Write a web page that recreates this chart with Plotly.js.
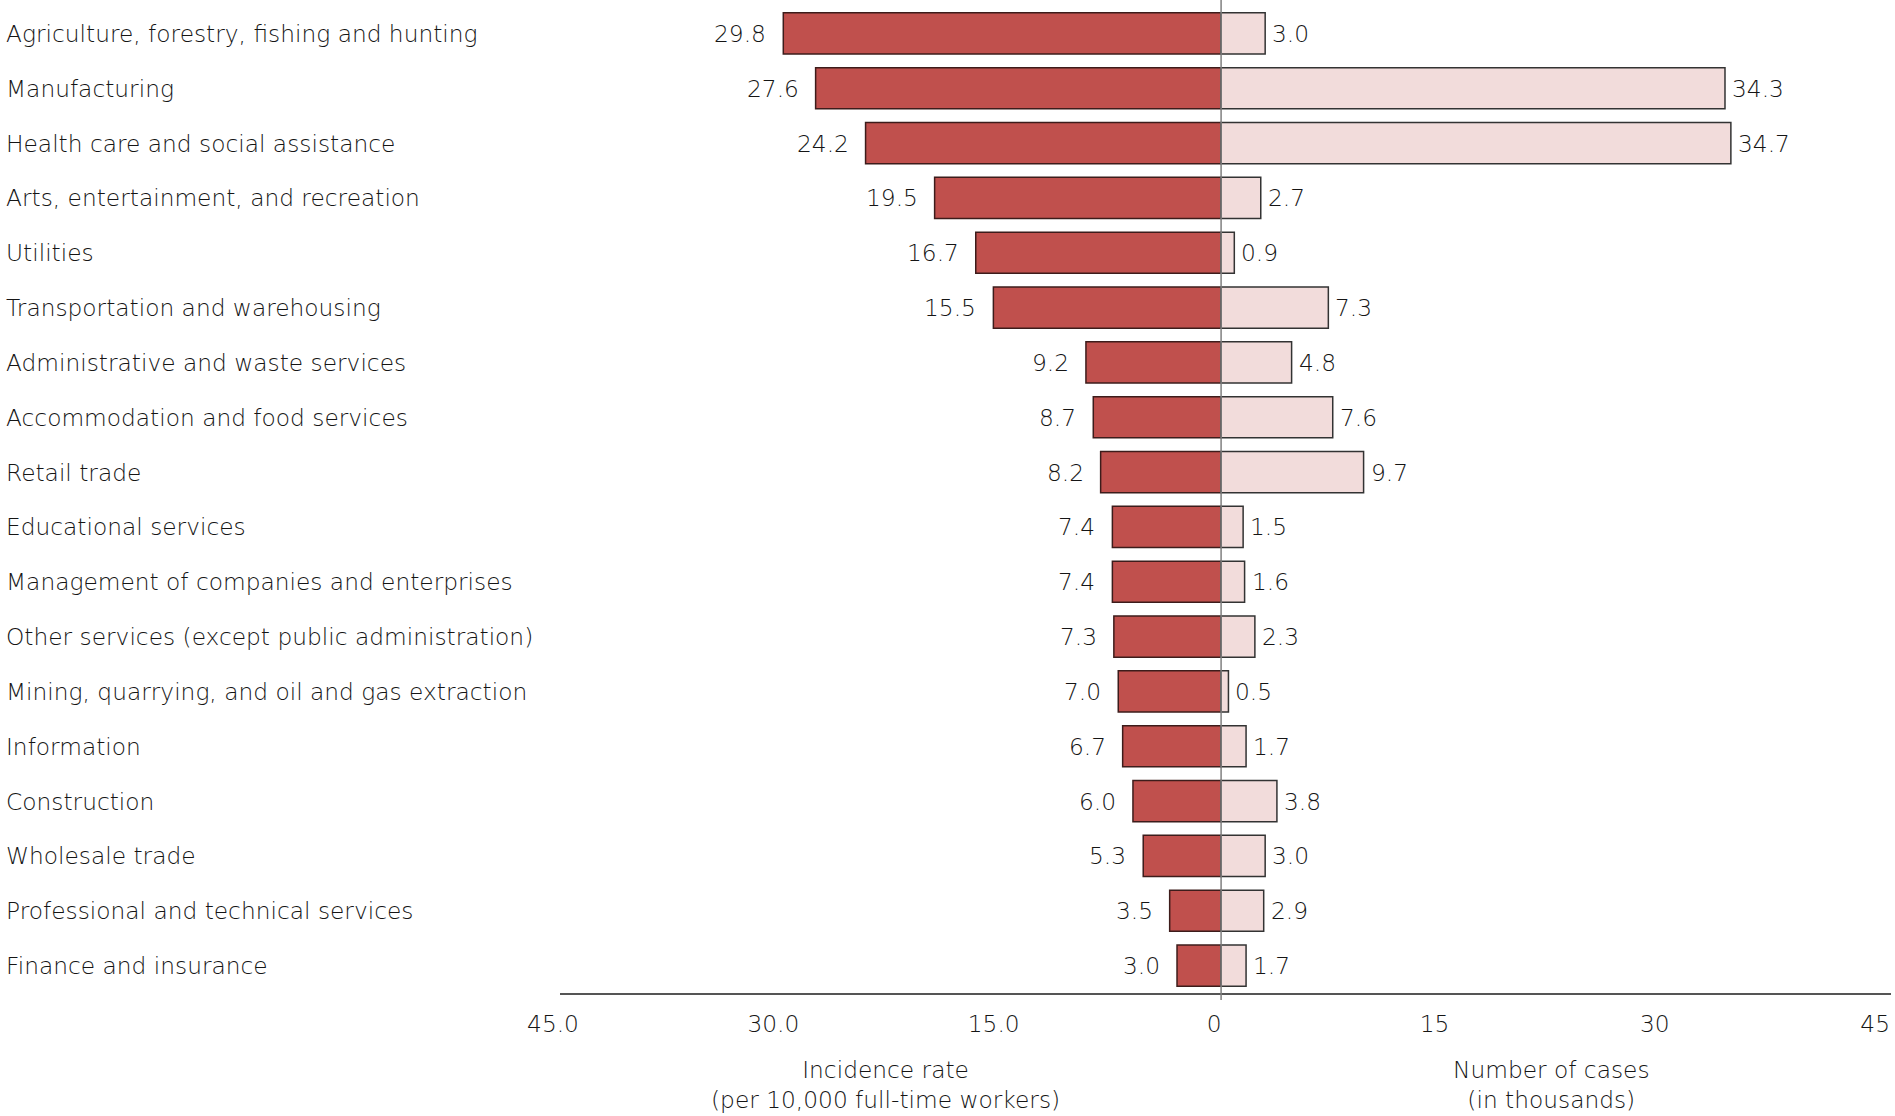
<!DOCTYPE html>
<html>
<head>
<meta charset="utf-8">
<script src="https://cdn.plot.ly/plotly-3.0.1.min.js"></script>
<style>
html,body{margin:0;padding:0;background:#fff;}
#chart{width:1895px;height:1116px;}
</style>
</head>
<body>
<div id="chart"></div>
<script>
const categories = [
  "Agriculture, forestry, fishing and hunting",
  "Manufacturing",
  "Health care and social assistance",
  "Arts, entertainment, and recreation",
  "Utilities",
  "Transportation and warehousing",
  "Administrative and waste services",
  "Accommodation and food services",
  "Retail trade",
  "Educational services",
  "Management of companies and enterprises",
  "Other services (except public administration)",
  "Mining, quarrying, and oil and gas extraction",
  "Information",
  "Construction",
  "Wholesale trade",
  "Professional and technical services",
  "Finance and insurance"
];
const incidenceRate = [29.8, 27.6, 24.2, 19.5, 16.7, 15.5, 9.2, 8.7, 8.2, 7.4, 7.4, 7.3, 7.0, 6.7, 6.0, 5.3, 3.5, 3.0];
const numberOfCases = [3.0, 34.3, 34.7, 2.7, 0.9, 7.3, 4.8, 7.6, 9.7, 1.5, 1.6, 2.3, 0.5, 1.7, 3.8, 3.0, 2.9, 1.7];
const tickValues = [-45, -30, -15, 0, 15, 30, 45];
const tickLabels = ["45.0", "30.0", "15.0", "0", "15", "30", "45"];
const leftTitle = "Incidence rate<br>(per 10,000 full-time workers)";
const rightTitle = "Number of cases<br>(in thousands)";

const FONT = "DejaVu Sans, Verdana, sans-serif";
const TXT = "#151515";
const FS = 23.3;

const traces = [
  {
    type: "bar", orientation: "h",
    y: categories,
    x: incidenceRate.map(v => -v),
    marker: {color: "#C0504D", line: {color: "#3d1c1b", width: 1.5}},
    hoverinfo: "skip", showlegend: false
  },
  {
    type: "bar", orientation: "h",
    y: categories,
    x: numberOfCases,
    marker: {color: "#F2DCDB", line: {color: "#333333", width: 1.5}},
    hoverinfo: "skip", showlegend: false
  }
];

const annotations = [];
categories.forEach((c, i) => {
  annotations.push({
    xref: "paper", yref: "y", x: -0.4177, y: c, xanchor: "left", yanchor: "middle",
    text: c, showarrow: false, font: {family: FONT, size: FS, color: TXT, weight: 200}
  });
  annotations.push({
    xref: "x", yref: "y", x: -incidenceRate[i], y: c, xanchor: "right", yanchor: "middle",
    xshift: -15, text: incidenceRate[i].toFixed(1), showarrow: false,
    font: {family: FONT, size: FS, color: TXT, weight: 200}
  });
  annotations.push({
    xref: "x", yref: "y", x: numberOfCases[i], y: c, xanchor: "left", yanchor: "middle",
    xshift: 5, text: numberOfCases[i].toFixed(1), showarrow: false,
    font: {family: FONT, size: FS, color: TXT, weight: 200}
  });
});
annotations.push({
  xref: "paper", yref: "paper", x: 0.2449, y: -0.0925, xanchor: "center", yanchor: "middle",
  text: leftTitle, showarrow: false, font: {family: FONT, size: FS, color: TXT, weight: 200}
});
annotations.push({
  xref: "paper", yref: "paper", x: 0.7453, y: -0.0925, xanchor: "center", yanchor: "middle",
  text: rightTitle, showarrow: false, font: {family: FONT, size: FS, color: TXT, weight: 200}
});

const layout = {
  width: 1895, height: 1116,
  margin: {l: 560, r: 4, t: 6, b: 123, pad: 0},
  paper_bgcolor: "#ffffff", plot_bgcolor: "#ffffff",
  barmode: "relative", bargap: 0.25,
  font: {family: FONT, size: FS, color: TXT, weight: 200},
  xaxis: {
    range: [-45, 45.6], tickvals: tickValues, ticktext: tickLabels,
    showgrid: false, zeroline: false, showline: true, linecolor: "#555555", linewidth: 1.5,
    ticks: "outside", ticklen: 10, tickcolor: "rgba(0,0,0,0)", ticklabelshift: -7,
    tickfont: {family: FONT, size: FS, color: TXT, weight: 200}, fixedrange: true
  },
  yaxis: {
    type: "category", autorange: "reversed", showticklabels: false,
    showgrid: false, zeroline: false, showline: false, ticks: "", fixedrange: true
  },
  shapes: [{
    type: "line", xref: "x", yref: "paper", x0: 0, x1: 0, y0: -0.007, y1: 1.007,
    line: {color: "#808080", width: 1.5}, layer: "above"
  }],
  annotations: annotations
};

Plotly.newPlot("chart", traces, layout, {staticPlot: true, displayModeBar: false});
</script>
</body>
</html>
